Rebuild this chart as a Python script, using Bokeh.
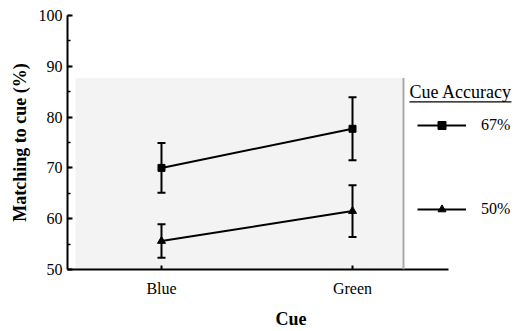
from bokeh.plotting import figure
from bokeh.models import (ColumnDataSource, Whisker, TeeHead, FixedTicker, SingleIntervalTicker,
                          Legend, LegendItem, Label, BoxAnnotation, Range1d)
from bokeh.embed import file_html
from bokeh.resources import INLINE

# ---- data ----
cues = ["Blue", "Green"]
cue_pos = [1, 2]
acc67_mean = [70.0, 77.7]
acc67_err = [4.9, 6.2]
acc50_mean = [55.6, 61.5]
acc50_err = [3.3, 5.1]
series_labels = ["67%", "50%"]
legend_title = "Cue Accuracy"

FONT = "Liberation Serif"

p = figure(width=514, height=331, output_backend="svg", toolbar_location=None,
           x_range=Range1d(0.508, 2.848), y_range=Range1d(50, 100),
           min_border_left=67, min_border_right=0, min_border_top=15, min_border_bottom=60)
p.outline_line_color = None
p.grid.visible = False
p.background_fill_color = "white"

# light scanned background
p.add_layout(BoxAnnotation(left=0.55, right=2.267, top=87.7, fill_color="#f3f3f3",
                           fill_alpha=1.0, line_color=None, level="underlay"))
# separator line of legend area
p.add_layout(BoxAnnotation(left=2.262, right=2.272, top=87.7, fill_color="#a8a8a8",
                           fill_alpha=1.0, line_color=None))

def make_series(mean, err, marker, size):
    src = ColumnDataSource(dict(x=cue_pos, y=mean,
                                upper=[m + e for m, e in zip(mean, err)],
                                lower=[m - e for m, e in zip(mean, err)]))
    w = Whisker(base="x", upper="upper", lower="lower", source=src, dimension="height",
                line_color="black", line_width=2,
                upper_head=TeeHead(size=8, line_width=2, line_color="black"),
                lower_head=TeeHead(size=8, line_width=2, line_color="black"))
    p.add_layout(w)
    l = p.line("x", "y", source=src, line_color="black", line_width=2)
    s = p.scatter("x", "y", source=src, marker=marker, size=size,
                  fill_color="black", line_color="black")
    return l, s

l67, s67 = make_series(acc67_mean, acc67_err, "square", 7)
l50, s50 = make_series(acc50_mean, acc50_err, "triangle", 8)

# axes
p.yaxis.ticker = SingleIntervalTicker(interval=10, num_minor_ticks=2)
p.yaxis.bounds = (50, 100)
p.yaxis.axis_label = "Matching to cue (%)"
p.yaxis.axis_label_text_font = FONT
p.yaxis.axis_label_text_font_style = "bold"
p.yaxis.axis_label_text_font_size = "18px"
p.yaxis.axis_label_standoff = 6
p.yaxis.major_label_text_font = FONT
p.yaxis.major_label_text_font_size = "16px"
p.yaxis.major_label_standoff = 5
p.yaxis.major_tick_in = 5
p.yaxis.major_tick_out = 0
p.yaxis.minor_tick_in = 3
p.yaxis.minor_tick_out = 0

p.xaxis.ticker = FixedTicker(ticks=cue_pos)
p.xaxis.major_label_overrides = {pos: c for pos, c in zip(cue_pos, cues)}
p.xaxis.bounds = (0.508, 2.503)
p.xaxis.axis_label = "Cue"
p.xaxis.axis_label_text_font = FONT
p.xaxis.axis_label_text_font_style = "bold"
p.xaxis.axis_label_text_font_size = "18px"
p.xaxis.axis_label_standoff = 9
p.xaxis.major_label_text_font = FONT
p.xaxis.major_label_text_font_size = "16px"
p.xaxis.major_label_standoff = 10
p.xaxis.major_tick_in = 4
p.xaxis.major_tick_out = 0
p.xaxis.minor_tick_line_color = None

for ax in (p.xaxis, p.yaxis):
    ax.axis_line_width = 2
    ax.axis_line_color = "black"
    ax.major_tick_line_width = 2
    ax.minor_tick_line_width = 1.5
    ax.major_label_text_color = "black"
    ax.axis_label_text_color = "black"

# legend
legend = Legend(items=[LegendItem(label=series_labels[0], renderers=[l67, s67]),
                       LegendItem(label=series_labels[1], renderers=[l50, s50])],
                location=(350, 50), glyph_width=49, glyph_height=20, label_height=20,
                label_standoff=15, spacing=64, padding=0, margin=0,
                background_fill_alpha=0, border_line_alpha=0,
                label_text_font=FONT, label_text_font_size="16px", label_text_color="black")
p.add_layout(legend)

p.add_layout(Label(x=2.298, y=84.9, text=legend_title, text_font=FONT,
                   text_font_size="18px", text_baseline="middle", text_color="black"))
p.add_layout(BoxAnnotation(left=2.298, right=2.832, top=83.1, bottom=82.85,
                           fill_color="black", fill_alpha=1.0, line_color=None))

open("out.html", "w").write(file_html(p, INLINE))
